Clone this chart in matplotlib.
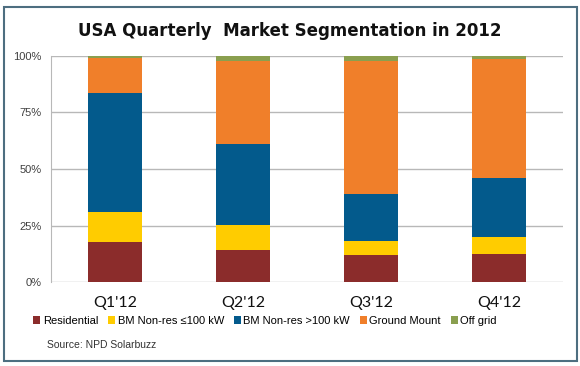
import numpy as np
import matplotlib
matplotlib.use("Agg")
import matplotlib.pyplot as plt
from matplotlib.patches import Rectangle

# quarterly shares, percent of installs
quarters = ["Q1'12", "Q2'12", "Q3'12", "Q4'12"]
residential = [17.5, 14.0, 11.9, 12.2]
bm_small = [13.5, 11.2, 6.2, 7.7]
bm_large = [52.6, 36.0, 20.8, 25.9]
ground_mount = [15.5, 36.7, 59.1, 53.0]
off_grid = [0.9, 2.1, 2.0, 1.2]

series_names = ["Residential", "BM Non-res \u2264100 kW", "BM Non-res >100 kW",
                "Ground Mount", "Off grid"]
colors = ["#8b2c2b", "#ffcc00", "#035a8c", "#f07f2a", "#8a9f4f"]

sans = ["Liberation Sans", "DejaVu Sans"]

fig = plt.figure(figsize=(5.8, 3.66), dpi=100)
fig.patch.set_facecolor("white")
ax = fig.add_axes([0.0879, 0.2295, 0.8828, 0.6175])

x = np.arange(len(quarters))
bottom = np.zeros(len(quarters))
for name, vals, c in zip(series_names,
                         [residential, bm_small, bm_large, ground_mount, off_grid],
                         colors):
    ax.bar(x, vals, width=0.42, bottom=bottom, color=c, label=name, zorder=3)
    bottom += np.array(vals)

ax.set_xlim(-0.5, 3.5)
ax.set_ylim(0, 100)
ax.set_yticks([0, 25, 50, 75, 100])
ax.set_yticklabels(["0%", "25%", "50%", "75%", "100%"], family=sans,
                   fontsize=8, color="#404040")
ax.set_xticks(x)
ax.set_xticklabels(quarters, family=["Lato", "DejaVu Sans"], fontsize=11.5,
                   color="#111111")
ax.tick_params(axis="x", length=0, pad=10)
ax.tick_params(axis="y", length=0, pad=7)
ax.yaxis.grid(True, color="#b8b8b8", linewidth=1, zorder=0)
for s in ["top", "right", "bottom"]:
    ax.spines[s].set_visible(False)
ax.spines["left"].set_color("#b8b8b8")

fig.text(0.5, 0.915, "USA Quarterly  Market Segmentation in 2012",
         ha="center", va="center", fontsize=12, fontweight="bold",
         family="DejaVu Sans", color="#111111")

leg = fig.legend(loc="center", bbox_to_anchor=(0.457, 0.123), ncol=5,
                 frameon=False, handlelength=0.65, handleheight=0.65,
                 handletextpad=0.2, columnspacing=0.9,
                 prop={"family": sans, "size": 8})

fig.text(0.081, 0.057, "Source: NPD Solarbuzz", fontsize=7.5, family=sans,
         color="#333333", va="center")

fig.patches.append(Rectangle((4 / 580, 1 - 361 / 366), 573 / 580, 354 / 366,
                             transform=fig.transFigure, fill=False,
                             edgecolor="#4d6e80", linewidth=1.5))

fig.savefig("out.png", dpi=100)
